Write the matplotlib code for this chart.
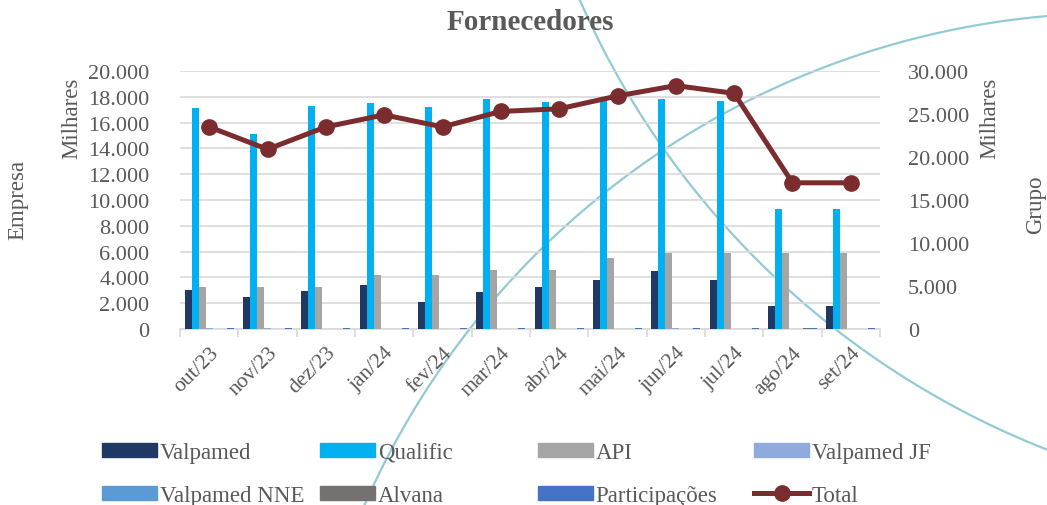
import numpy as np
import matplotlib
matplotlib.use("Agg")
import matplotlib.pyplot as plt
from matplotlib.lines import Line2D
from matplotlib.patches import Patch
from matplotlib.ticker import FuncFormatter, MultipleLocator

plt.rcParams['font.family'] = ['Liberation Serif', 'DejaVu Serif']

months = ["out/23", "nov/23", "dez/23", "jan/24", "fev/24", "mar/24",
          "abr/24", "mai/24", "jun/24", "jul/24", "ago/24", "set/24"]
valpamed = [3050, 2500, 2920, 3390, 2120, 2870, 3260, 3800, 4520, 3800, 1780, 1780]
qualific = [17100, 15100, 17300, 17500, 17200, 17800, 17600, 17950, 17850, 17700, 9300, 9300]
api = [3280, 3280, 3280, 4160, 4160, 4600, 4600, 5480, 5900, 5900, 5900, 5900]
valpamed_jf = [80, 80, 0, 0, 0, 0, 0, 0, 80, 0, 0, 0]
valpamed_nne = [0, 0, 0, 0, 0, 0, 0, 0, 0, 0, 0, 0]
alvana = [0, 0, 0, 0, 0, 0, 0, 0, 0, 0, 80, 0]
participacoes = [80, 80, 80, 80, 80, 80, 80, 80, 80, 80, 80, 80]
total = [23500, 20900, 23500, 24900, 23500, 25300, 25600, 27100, 28300, 27400, 17000, 17000]

series = [
    ("Valpamed", valpamed, "#203864"),
    ("Qualific", qualific, "#00b0f0"),
    ("API", api, "#a5a5a5"),
    ("Valpamed JF", valpamed_jf, "#8faadc"),
    ("Valpamed NNE", valpamed_nne, "#5b9bd5"),
    ("Alvana", alvana, "#767171"),
    ("Participações", participacoes, "#4472c4"),
]
total_color = "#7b2c2f"
txt = "#595959"

W, H = 1047, 506
fig = plt.figure(figsize=(W / 100, H / 100), dpi=100)
fig.patch.set_facecolor("white")

# decorative background arcs (pixel coords)
def arc(cx, cy, r, t0, t1):
    t = np.linspace(t0, t1, 400)
    x = cx + r * np.cos(t)
    y = cy + r * np.sin(t)
    return x / W, 1 - y / H

ax_, ay_ = arc(1356, -338, 847, np.deg2rad(90), np.deg2rad(180))
fig.add_artist(Line2D(ax_, ay_, transform=fig.transFigure, color="#92cad6", lw=1.6, zorder=-5))
bx_, by_ = arc(1118, 837, 823, np.deg2rad(180), np.deg2rad(270))
fig.add_artist(Line2D(bx_, by_, transform=fig.transFigure, color="#92cad6", lw=1.6, zorder=-5))

left, right, top, bottom = 180, 880, 72, 330
ax = fig.add_axes([left / W, 1 - bottom / H, (right - left) / W, (bottom - top) / H])
ax.patch.set_alpha(0)

x = np.arange(len(months))
bw = 0.12
n = len(series)
handles = {}
for i, (name, vals, col) in enumerate(series):
    off = (i - (n - 1) / 2) * bw
    ax.bar(x + off, vals, width=bw, color=col, zorder=3)
    handles[name] = Patch(facecolor=col, edgecolor=col)

ax.set_xlim(-0.5, len(months) - 0.5)
ax.set_ylim(0, 20000)
ax.yaxis.set_major_locator(MultipleLocator(2000))
fmt = FuncFormatter(lambda v, p: f"{int(v):,}".replace(",", "."))
ax.yaxis.set_major_formatter(fmt)
ax.grid(axis="y", color="#d9d9d9", lw=1.2, zorder=0)
for s in ["top", "right", "left"]:
    ax.spines[s].set_visible(False)
ax.spines["bottom"].set_color("#d9d9d9")
ax.spines["bottom"].set_linewidth(1.2)
ax.set_xticks(x)
ax.set_xticklabels(months, rotation=45, ha="right", rotation_mode="anchor")
ax.set_xticks(np.arange(-0.5, len(months)), minor=True)
ax.tick_params(axis="x", which="major", length=0, pad=10, labelsize=15.5, labelcolor=txt)
ax.tick_params(axis="x", which="minor", length=6, color="#d9d9d9", width=1.2)
ax.tick_params(axis="y", length=0, pad=22, labelsize=16, labelcolor=txt)

ax2 = ax.twinx()
ax2.set_ylim(0, 30000)
ax2.yaxis.set_major_locator(MultipleLocator(5000))
ax2.yaxis.set_major_formatter(fmt)
for s in ax2.spines.values():
    s.set_visible(False)
ax2.tick_params(axis="y", length=0, pad=20, labelsize=16, labelcolor=txt)
ax2.plot(x, total, color=total_color, lw=3.6, marker="o", markersize=11, zorder=5)
handles["Total"] = Line2D([], [], color=total_color, lw=3.6, marker="o", markersize=11)

# titles and axis labels
fig.text(530 / W, 1 - 23 / H, "Fornecedores", ha="center", va="center",
         fontsize=21, fontweight="bold", color=txt)
fig.text(18 / W, 1 - 200 / H, "Empresa", rotation=90, ha="center", va="center", fontsize=16.5, color=txt)
fig.text(72 / W, 1 - 118 / H, "Milhares", rotation=90, ha="center", va="center", fontsize=16.5, color=txt)
fig.text(990 / W, 1 - 118 / H, "Milhares", rotation=90, ha="center", va="center", fontsize=16.5, color=txt)
fig.text(1036 / W, 1 - 205 / H, "Grupo", rotation=90, ha="center", va="center", fontsize=16.5, color=txt)

# legend: 4 columns placed at fixed positions
cols = [["Valpamed", "Valpamed NNE"], ["Qualific", "Alvana"],
        ["API", "Participações"], ["Valpamed JF", "Total"]]
col_x = [102, 320, 538, 754]
for cx, names in zip(col_x, cols):
    leg = fig.legend([handles[nm] for nm in names], names, loc="upper left",
                     bbox_to_anchor=(cx / W, 1 - 443 / H), frameon=False,
                     fontsize=16.5, handlelength=2.4, handleheight=0.55,
                     handletextpad=0.12, labelspacing=0.95, borderpad=0, borderaxespad=0)
    for t in leg.get_texts():
        t.set_color(txt)

fig.savefig("out.png", dpi=100)
